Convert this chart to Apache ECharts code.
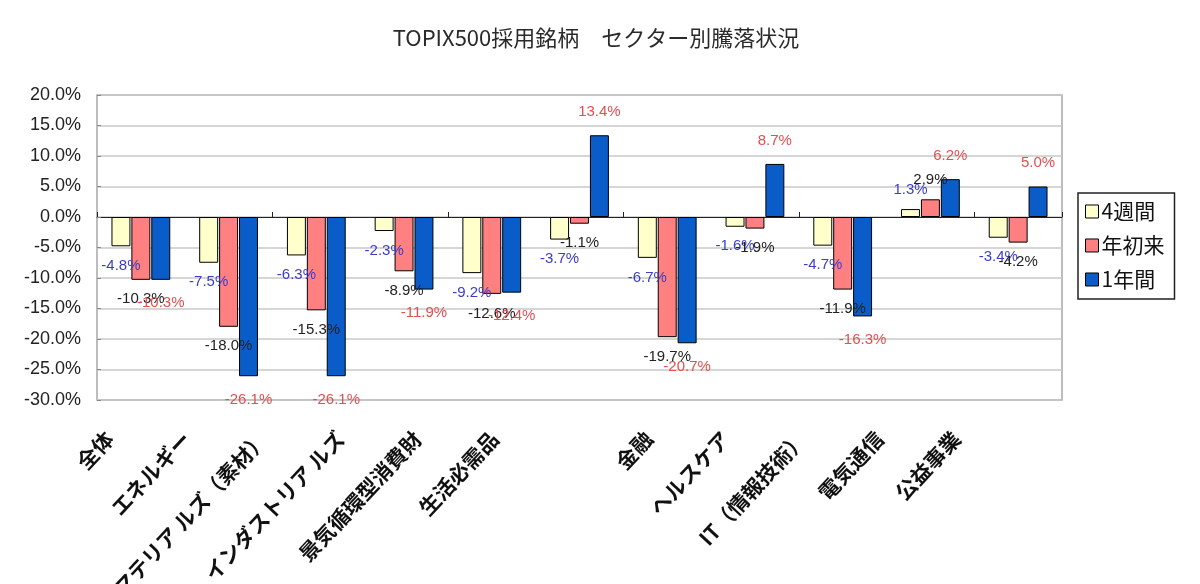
<!DOCTYPE html>
<html>
<head>
<meta charset="utf-8">
<script src="https://cdn.jsdelivr.net/npm/echarts@6/dist/echarts.min.js"></script>
<style>
  html, body { margin: 0; padding: 0; background: #fff; }
  #chart { width: 1200px; height: 584px; }
</style>
</head>
<body>
<div id="chart"></div>
<script>
// sectors
const sectors = ['全体', 'エネルギー', 'マテリアルズ（素材）', 'インダストリアルズ', '景気循環型消費財',
  '生活必需品', '金融', 'ヘルスケア', 'IT（情報技術）', '電気通信', '公益事業']
// tick labels as printed under the plot (the picture leaves one empty slot)
const tickLabels = ['全体', 'エネルギー', 'マテリア ルズ（素材）', 'インダストリア ルズ', '景気循環型消費財',
  '生活必需品', '', '金融', 'ヘルスケア', 'IT（情報技術）', '電気通信', '公益事業']
// % change
const week4 = [-4.8, -7.5, -6.3, -2.3, -9.2, -3.7, -6.7, -1.6, -4.7, 1.3, -3.4]
const ytd   = [-10.3, -18.0, -15.3, -8.9, -12.6, -1.1, -19.7, -1.9, -11.9, 2.9, -4.2]
const year1 = [-10.3, -26.1, -26.1, -11.9, -12.4, 13.4, -20.7, 8.7, -16.3, 6.2, 5.0]
const seriesNames = ['4週間', '年初来', '1年間']

const numFont = '"Liberation Sans", Arial, sans-serif'
const jpFont = '"Noto Sans CJK JP", sans-serif'

function makeSeries(name, data, fill, labelColor, dist) {
  return {
    name: name,
    type: 'bar',
    xAxisIndex: 0,
    yAxisIndex: 0,
    barGap: '5%',
    barCategoryGap: '33%',
    itemStyle: { color: fill, borderColor: '#000', borderWidth: 1 },
    data: data.map(v => ({
      value: v,
      label: { position: v >= 0 ? 'top' : 'bottom' }
    })),
    label: {
      show: true,
      distance: dist,
      color: labelColor,
      fontFamily: numFont,
      fontSize: 15,
      formatter: p => p.value.toFixed(1) + '%'
    }
  }
}

const chart = echarts.init(document.getElementById('chart'))
chart.setOption({
  animation: false,
  backgroundColor: '#fff',
  title: {
    text: 'TOPIX500採用銘柄　セクター別騰落状況',
    left: 591,
    textAlign: 'center',
    top: 22,
    textStyle: { fontFamily: jpFont, fontSize: 22, fontWeight: 'normal', color: '#2a2a2a' }
  },
  legend: {
    orient: 'vertical',
    left: 1078,
    top: 193,
    padding: [8, 10, 9, 7],
    itemGap: 13,
    itemWidth: 13,
    itemHeight: 13,
    borderColor: '#222',
    borderWidth: 1.5,
    data: seriesNames.map(n => ({ name: n, icon: 'rect' })),
    itemStyle: { borderColor: '#000', borderWidth: 1 },
    textStyle: { fontFamily: jpFont, fontSize: 21, color: '#111', padding: [0, 0, 0, -2] }
  },
  grid: [
    {
      left: 97, right: 138, top: 95, height: 305,
      outerBoundsMode: 'none',
      show: true, borderColor: '#a8a8a8', borderWidth: 1.5
    },
    { left: 71, right: 205, top: 95, height: 305, outerBoundsMode: 'none' }
  ],
  xAxis: [
    {
      type: 'category',
      gridIndex: 0,
      data: sectors,
      axisLine: { onZero: true, lineStyle: { color: '#222', width: 1 } },
      axisTick: { show: true, inside: true, length: 5, lineStyle: { color: '#222' } },
      axisLabel: { show: false }
    },
    {
      type: 'category',
      gridIndex: 1,
      data: tickLabels,
      position: 'bottom',
      axisLine: { show: false },
      axisTick: { show: false },
      axisLabel: {
        interval: 0,
        rotate: 47,
        margin: 35,
        fontFamily: jpFont,
        fontSize: 21,
        fontWeight: 'bold',
        color: '#111'
      }
    }
  ],
  yAxis: [
    {
      type: 'value',
      gridIndex: 0,
      min: -30, max: 20, interval: 5,
      axisLine: { show: false },
      axisTick: { show: true, inside: true, length: 4, lineStyle: { color: '#888' } },
      splitLine: { lineStyle: { color: '#c8c8c8', width: 1.5 } },
      axisLabel: {
        fontFamily: numFont, fontSize: 18, color: '#222', margin: 16,
        formatter: v => v.toFixed(1) + '%'
      }
    },
    { type: 'value', gridIndex: 1, show: false }
  ],
  series: [
    makeSeries(seriesNames[0], week4, '#FFFFCC', '#3c3cc8', 12),
    makeSeries(seriesNames[1], ytd, '#FF8080', '#222', 12),
    makeSeries(seriesNames[2], year1, '#0A5CC8', '#e05050', 16)
  ]
})
</script>
</body>
</html>
